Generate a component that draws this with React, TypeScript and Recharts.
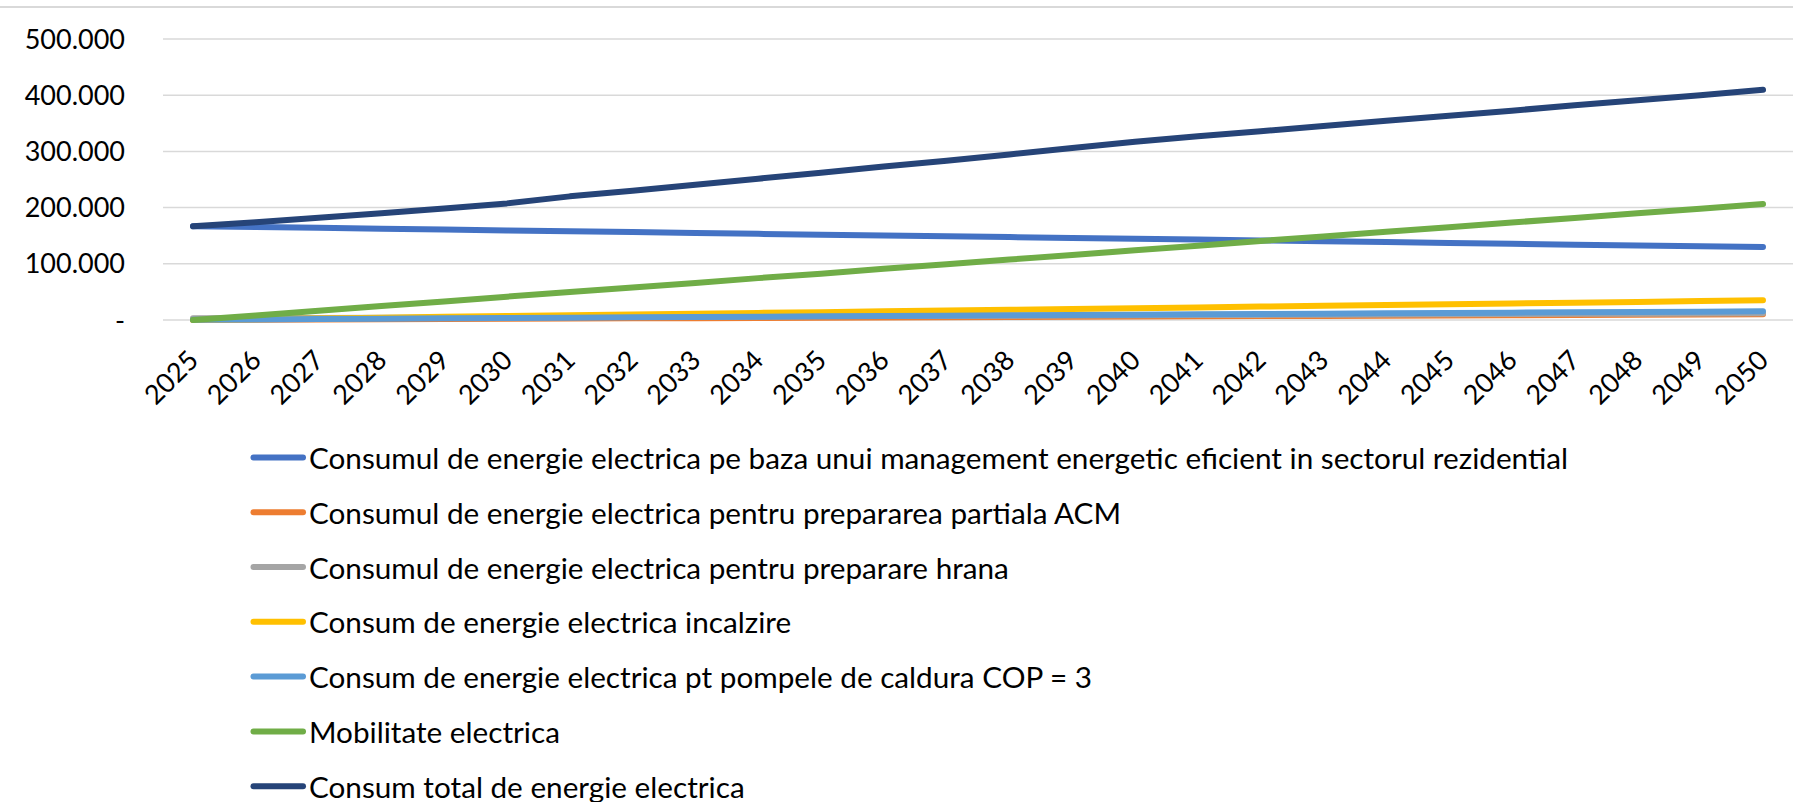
import React from "react";
import {
  LineChart,
  Line,
  XAxis,
  YAxis,
  CartesianGrid,
  Legend,
} from "recharts";

const years = [
  "2025", "2026", "2027", "2028", "2029", "2030", "2031", "2032", "2033",
  "2034", "2035", "2036", "2037", "2038", "2039", "2040", "2041", "2042",
  "2043", "2044", "2045", "2046", "2047", "2048", "2049", "2050",
];

// MWh
const rezidential = [
  166700, 165500, 164000, 162200, 160900, 159400, 158000, 156600, 155000,
  153300, 151800, 150500, 149100, 147600, 146000, 144600, 143100, 141600,
  140200, 138700, 137200, 135500, 134000, 132600, 131100, 129800,
];
const acm = [
  0, 400, 800, 1300, 1700, 2100, 2500, 2900, 3300, 3700, 4100, 4500, 4900,
  5300, 5700, 6100, 6500, 6900, 7300, 7700, 8100, 8500, 8900, 9300, 9700,
  10100,
];
const hrana = [
  3000, 3400, 3700, 4100, 4400, 4800, 5200, 5500, 5900, 6200, 6600, 7000,
  7300, 7700, 8000, 8400, 8800, 9100, 9500, 9800, 10200, 10600, 10900, 11300,
  11600, 12000,
];
const incalzire = [
  0, 1400, 2800, 4200, 5600, 7000, 8400, 9800, 11200, 12600, 14000, 15400,
  16800, 18200, 19600, 21000, 22400, 23800, 25200, 26600, 28000, 29400, 30800,
  32200, 33600, 35000,
];
const pompe = [
  500, 1100, 1700, 2300, 2900, 3500, 4100, 4700, 5300, 5900, 6500, 7100, 7700,
  8300, 8900, 9500, 10100, 10700, 11300, 11900, 12500, 13100, 13700, 14300,
  14900, 15500,
];
const mobilitate = [
  0, 8000, 16500, 25000, 33000, 41500, 50000, 58000, 66000, 74500, 82500,
  91000, 99000, 107500, 115500, 124000, 132000, 140500, 148500, 157000,
  165000, 173500, 181500, 190000, 198000, 206500,
];
const total = [
  166700, 174000, 182000, 190000, 198500, 207500, 220000, 230000, 240500,
  251500, 262000, 273000, 283500, 294500, 306000, 317000, 327000, 336000,
  345000, 354500, 363500, 372500, 382000, 391000, 400000, 409500,
];

const yTicks = [0, 100000, 200000, 300000, 400000, 500000];

const series = [
  {
    key: "rezidential",
    name: "Consumul de energie electrica pe baza unui management energetic eficient in sectorul rezidential",
    color: "#4472C4",
    values: rezidential,
  },
  {
    key: "acm",
    name: "Consumul de energie electrica pentru prepararea partiala ACM",
    color: "#ED7D31",
    values: acm,
  },
  {
    key: "hrana",
    name: "Consumul de energie electrica pentru preparare hrana",
    color: "#A5A5A5",
    values: hrana,
  },
  {
    key: "incalzire",
    name: "Consum de energie electrica incalzire",
    color: "#FFC000",
    values: incalzire,
  },
  {
    key: "pompe",
    name: "Consum de energie electrica pt pompele de caldura COP = 3",
    color: "#5B9BD5",
    values: pompe,
  },
  {
    key: "mobilitate",
    name: "Mobilitate electrica",
    color: "#70AD47",
    values: mobilitate,
  },
  {
    key: "total",
    name: "Consum total de energie electrica",
    color: "#264478",
    values: total,
  },
];

const data = years.map((year, i) => {
  const row: Record<string, string | number> = { year };
  series.forEach((s) => {
    row[s.key] = s.values[i];
  });
  return row;
});

const FONT = "Lato, 'Liberation Sans', sans-serif";

const formatY = (v: number) => (v === 0 ? "-" : `${v / 1000}.000`);

function YearTick({ x, y, payload }: any) {
  const ax = x + 7;
  const ay = y + 42;
  return (
    <text
      x={ax}
      y={ay}
      textAnchor="end"
      fontSize={27}
      fontFamily={FONT}
      fill="#000"
      transform={`rotate(-45, ${ax}, ${ay})`}
    >
      {payload.value}
    </text>
  );
}

function LegendBox() {
  return (
    <svg width={1793} height={380} style={{ display: "block" }}>
      {series.map((s, i) => {
        const cy = 27.4 + i * 54.8;
        return (
          <g key={s.key}>
            <line
              x1={253.5}
              x2={303}
              y1={cy}
              y2={cy}
              stroke={s.color}
              strokeWidth={6}
              strokeLinecap="round"
            />
            <text
              x={309}
              y={cy}
              dominantBaseline="central"
              fontSize={29.7}
              fontFamily={FONT}
              fill="#000"
            >
              {s.name}
            </text>
          </g>
        );
      })}
    </svg>
  );
}

export default function App() {
  return (
    <div style={{ position: "absolute", left: 0, top: 0, width: 1793, height: 802, background: "#fff" }}>
      <div style={{ position: "absolute", left: 0, top: 6, width: 1793, height: 2, background: "#d9d9d9" }} />
      <LineChart
        width={1793}
        height={802}
        data={data}
        margin={{ top: 39, right: 0, bottom: 0, left: 0 }}
      >
        <CartesianGrid vertical={false} stroke="#d9d9d9" strokeWidth={1.5} />
        <XAxis
          dataKey="year"
          height={482}
          axisLine={false}
          tickLine={false}
          tickSize={0}
          tickMargin={0}
          interval={0}
          padding={{ left: 30, right: 30 }}
          tick={<YearTick />}
        />
        <YAxis
          width={163}
          domain={[0, 500000]}
          ticks={yTicks}
          axisLine={false}
          tickLine={false}
          tickSize={0}
          tickMargin={38}
          tickFormatter={formatY}
          tick={{ fontSize: 27, fontFamily: FONT, fill: "#000" }}
        />
        <Legend
          layout="vertical"
          align="center"
          verticalAlign="middle"
          wrapperStyle={{ left: 0, top: 430, width: 1793 }}
          content={() => <LegendBox />}
        />
        {series.map((s) => (
          <Line
            key={s.key}
            type="linear"
            dataKey={s.key}
            name={s.name}
            stroke={s.color}
            strokeWidth={6}
            strokeLinecap="round"
            strokeLinejoin="round"
            dot={false}
            activeDot={false}
            isAnimationActive={false}
          />
        ))}
      </LineChart>
    </div>
  );
}
